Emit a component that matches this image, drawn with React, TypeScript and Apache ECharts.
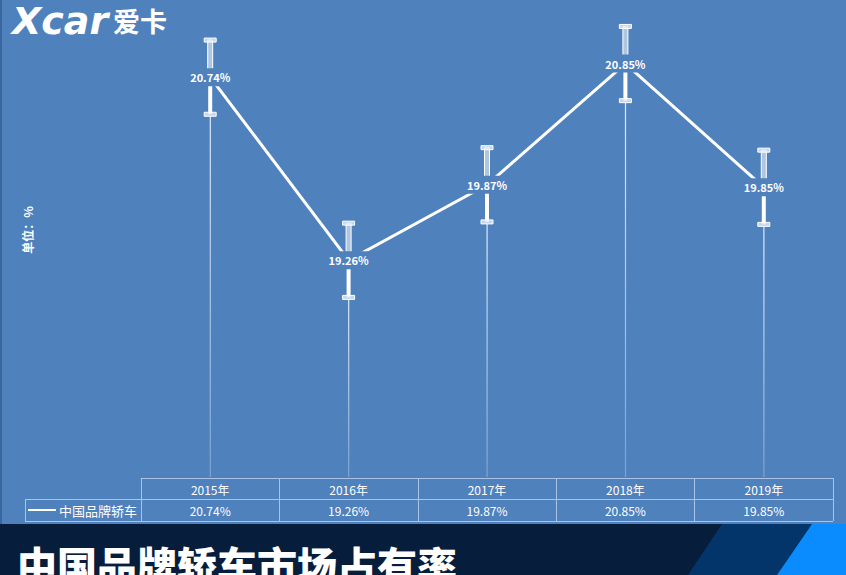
import React, { useEffect, useRef } from 'react';
import * as echarts from 'echarts';

// 年份（表格首行 / 类目轴）
const years = ['2015年', '2016年', '2017年', '2018年', '2019年'];
// 市场占有率 %
const shareValues = [20.74, 19.26, 19.87, 20.85, 19.85];
// 误差线幅度 %
const errorMargins = [0.3, 0.3, 0.3, 0.3, 0.3];
const seriesName = '中国品牌轿车';
const chartTitle = '中国品牌轿车市场占有率';
const unitLabel = '单位：%';

const BG = '#4f81bd';
const BORDER = '#a9c3e6';
const FONT = '"Noto Sans CJK SC", "Noto Sans", sans-serif';

const App: React.FC = () => {
  const chartRef = useRef<HTMLDivElement>(null);

  useEffect(() => {
    let chart: echarts.ECharts | undefined;
    if (chartRef.current) {
      chart = echarts.init(chartRef.current, undefined, { renderer: 'svg' });

      const option: echarts.EChartsOption = {
        animation: false,
        backgroundColor: BG,
        textStyle: { fontFamily: FONT },
        grid: { left: 141, right: 13, top: 45, bottom: 97 },
        xAxis: [
          {
            type: 'category',
            data: years,
            boundaryGap: true,
            axisLine: { lineStyle: { color: BORDER, width: 1 } },
            axisTick: { show: true, length: 43, lineStyle: { color: BORDER, width: 1 } },
            axisLabel: { color: '#ffffff', fontSize: 12, margin: 5 },
          },
          {
            type: 'category',
            position: 'bottom',
            offset: 21,
            data: shareValues.map((v) => v.toFixed(2) + '%'),
            boundaryGap: true,
            axisLine: { lineStyle: { color: BORDER, width: 1 } },
            axisTick: { show: false },
            axisLabel: { color: '#ffffff', fontSize: 12, margin: 5 },
          },
        ],
        yAxis: {
          type: 'value',
          min: 17.5,
          max: 21,
          show: false,
        },
        series: [
          {
            type: 'custom',
            name: 'error',
            xAxisIndex: 0,
            z: 2,
            silent: true,
            data: shareValues.map((v, i) => [i, v, v - errorMargins[i], v + errorMargins[i]]),
            renderItem: (params: any, api: any) => {
              const i = api.value(0);
              const [x, yLow] = api.coord([i, api.value(2)]);
              const yHigh = api.coord([i, api.value(3)])[1];
              const yMid = api.coord([i, api.value(1)])[1];
              const bottom = params.coordSys.y + params.coordSys.height;
              return {
                type: 'group',
                children: [
                  {
                    type: 'rect',
                    shape: { x: x - 0.5, y: yLow + 2, width: 1.2, height: bottom - 3 - yLow },
                    style: {
                      fill: new echarts.graphic.LinearGradient(0, 0, 0, 1, [
                        { offset: 0, color: 'rgba(230,240,252,0.95)' },
                        { offset: 1, color: 'rgba(230,240,252,0.3)' },
                      ]),
                    },
                  },
                  {
                    type: 'rect',
                    shape: { x: x - 2.5, y: yHigh, width: 5, height: yMid - yHigh },
                    style: { fill: 'rgba(255,255,255,0.55)', stroke: '#ffffff', lineWidth: 1 },
                  },
                  {
                    type: 'rect',
                    shape: { x: x - 2, y: yMid, width: 4, height: yLow - yMid },
                    style: { fill: '#ffffff' },
                  },
                  {
                    type: 'rect',
                    shape: { x: x - 6, y: yHigh - 2, width: 12, height: 4 },
                    style: { fill: 'rgba(225,236,250,0.8)', stroke: '#ffffff', lineWidth: 1 },
                  },
                  {
                    type: 'rect',
                    shape: { x: x - 6, y: yLow - 2, width: 12, height: 4 },
                    style: { fill: 'rgba(225,236,250,0.8)', stroke: '#ffffff', lineWidth: 1 },
                  },
                ],
              };
            },
          },
          {
            type: 'line',
            name: seriesName,
            xAxisIndex: 0,
            z: 3,
            data: shareValues,
            symbol: 'circle',
            symbolSize: 1,
            itemStyle: { color: '#ffffff' },
            lineStyle: { color: '#ffffff', width: 3 },
            label: {
              show: true,
              position: 'inside',
              formatter: (p: any) => Number(p.value).toFixed(2) + '%',
              color: '#ffffff',
              fontSize: 11,
              fontWeight: 'bold',
              backgroundColor: BG,
              padding: [4, 2, 3, 2],
            },
          },
        ],
        graphic: [
          { type: 'rect', shape: { x: 0, y: 0, width: 2, height: 524 }, style: { fill: '#3b679f' } },
          { type: 'rect', shape: { x: 0, y: 524, width: 846, height: 51 }, style: { fill: '#061d3b' } },
          {
            type: 'polygon',
            shape: { points: [[722, 524], [812, 524], [777, 575], [688, 575]] },
            style: { fill: '#04356a' },
          },
          {
            type: 'polygon',
            shape: { points: [[812, 524], [846, 524], [846, 575], [777, 575]] },
            style: { fill: '#0a8cff' },
          },
          {
            type: 'text',
            x: 17,
            y: 544,
            style: {
              text: chartTitle,
              fill: '#ffffff',
              font: `900 40px ${FONT}`,
              verticalAlign: 'top',
            },
          },
          {
            type: 'text',
            x: 12,
            y: 21,
            style: {
              text: 'Xcar',
              fill: '#ffffff',
              font: `italic bold 38px "DejaVu Sans", sans-serif`,
              verticalAlign: 'middle',
            },
          },
          {
            type: 'text',
            x: 113,
            y: 20,
            style: {
              text: '爱卡',
              fill: '#ffffff',
              font: `bold 27px ${FONT}`,
              verticalAlign: 'middle',
            },
          },
          {
            type: 'text',
            x: 27,
            y: 230,
            rotation: Math.PI / 2,
            style: {
              text: unitLabel,
              fill: '#ffffff',
              font: `bold 12px ${FONT}`,
              align: 'center',
              verticalAlign: 'middle',
            },
          },
          { type: 'line', shape: { x1: 25, y1: 499.5, x2: 141, y2: 499.5 }, style: { stroke: BORDER, lineWidth: 1 } },
          { type: 'line', shape: { x1: 25, y1: 521.5, x2: 833, y2: 521.5 }, style: { stroke: BORDER, lineWidth: 1 } },
          { type: 'line', shape: { x1: 25.5, y1: 499, x2: 25.5, y2: 521 }, style: { stroke: BORDER, lineWidth: 1 } },
          { type: 'line', shape: { x1: 28, y1: 510, x2: 56, y2: 510 }, style: { stroke: '#ffffff', lineWidth: 2 } },
          {
            type: 'text',
            x: 59,
            y: 510,
            style: {
              text: seriesName,
              fill: '#ffffff',
              font: `13px ${FONT}`,
              verticalAlign: 'middle',
            },
          },
        ],
      };

      chart.setOption(option);
    }
    return () => {
      chart?.dispose();
    };
  }, []);

  return (
    <div
      ref={chartRef}
      style={{ position: 'fixed', left: 0, top: 0, width: '846px', height: '575px' }}
    />
  );
};

export default App;
